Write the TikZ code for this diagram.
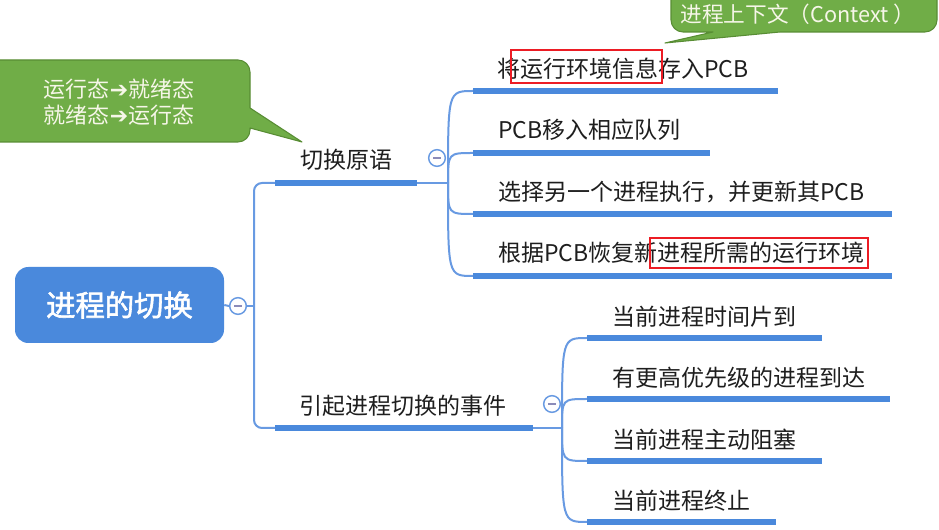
\documentclass[tikz,border=0pt]{standalone}
\usepackage{fontspec}
\setmainfont{Noto Sans CJK SC}
\newfontfamily\rootfont[FakeBold=2]{Noto Sans CJK SC}
\newfontfamily\arrowfont{DejaVu Sans}
\usetikzlibrary{
  positioning
}
\definecolor{rootcolor}{RGB}{74, 137, 220}
\definecolor{linkcolor}{RGB}{104, 154, 226}
\definecolor{barcolor}{RGB}{74, 137, 220}
\definecolor{notecolor}{RGB}{112, 173, 71}
\definecolor{noteborder}{RGB}{88, 141, 52}
\definecolor{notetext}{RGB}{246, 246, 232}
\definecolor{labelcolor}{RGB}{30, 30, 30}
\definecolor{togglecolor}{RGB}{140, 140, 185}
\definecolor{markcolor}{RGB}{236, 28, 36}
\tikzset{
topictext/.style={
  anchor=west,
  inner sep=0pt,
  font=\fontsize{17.25}{21}\selectfont,
  text=labelcolor
},
roottopic/.style={
  fill=rootcolor,
  rounded corners=10pt,
  minimum width=156.75pt,
  minimum height=57pt,
  font=\rootfont\fontsize{22}{26}\selectfont,
  text=white
},
toggle/.style={
  circle,
  draw=linkcolor,
  fill=white,
  line width=1.1pt,
  minimum size=12.5pt,
  inner sep=0pt,
  path picture={
    \draw[togglecolor, line width=1.2pt]
      ([xshift=-3pt]path picture bounding box.center) --
      ([xshift=3pt]path picture bounding box.center);
  }
},
link/.style={
  draw=linkcolor,
  line width=1.5pt
},
bar/.style={
  draw=barcolor,
  line width=4.3pt
},
callout/.style={
  fill=notecolor,
  draw=noteborder,
  line width=0.8pt,
  line join=round
},
notetextstyle/.style={
  align=center,
  inner sep=0pt,
  text=notetext
},
markbox/.style={
  draw=markcolor,
  line width=1pt
}
}
\newcommand{\arr}{{\arrowfont ➔}}

\begin{document}
\begin{tikzpicture}[x=0.75pt, y=-0.75pt]
      \fill[white] (0,0) rectangle (939,530);
      \useasboundingbox (0,0) rectangle (939,530);

      \draw[callout] (250,108) -- (302,142) -- (250,128)
        [rounded corners=9pt] -- (250,142) -- (-12,142) -- (-12,60) -- (250,60)
        [sharp corners] -- cycle;
      \node[notetextstyle, font=\fontsize{16.5}{19.5}\selectfont] (n1) at (119,102)
        {运行态\arr 就绪态\\就绪态\arr 运行态};

      \draw[callout] (713,32) -- (665,43) -- (780,32)
        [rounded corners=9pt] -- (937,32) -- (937,-20) -- (671,-20) -- (671,32)
        [sharp corners] -- cycle;
      \node[notetextstyle, font=\fontsize{16.25}{19}\selectfont] (n2) at (798,14)
        {进程上下文（Context ）};

      \node[roottopic] (root) at (119.5,305) {进程的切换};
      \node[toggle] (tg0) at (238,306) {};
      \node[toggle] (tg1) at (437,158) {};
      \node[toggle] (tg2) at (552,404) {};

      \coordinate (j0) at (254,306);
      \coordinate (uAa) at (275,183);
      \coordinate (uAb) at (417,183);
      \coordinate (uBa) at (275,428);
      \coordinate (uBb) at (533,428);
      \coordinate (bA) at (448,183);
      \coordinate (bB) at (562,428);

      \coordinate (a1s) at (473,91);  \coordinate (a1e) at (778,91);
      \coordinate (a2s) at (473,153); \coordinate (a2e) at (710,153);
      \coordinate (a3s) at (473,214); \coordinate (a3e) at (892,214);
      \coordinate (a4s) at (473,276); \coordinate (a4e) at (892,276);
      \coordinate (b1s) at (587,338); \coordinate (b1e) at (822,338);
      \coordinate (b2s) at (587,399); \coordinate (b2e) at (890,399);
      \coordinate (b3s) at (587,461); \coordinate (b3e) at (822,461);
      \coordinate (b4s) at (587,522); \coordinate (b4e) at (776,522);

      \draw[link] (root.east) -- (tg0.west);
      \draw[link] (tg0.east) -- (j0);
      \draw[link, rounded corners=6pt] (uAa) -| (j0) |- (uBa);
      \draw[bar] (uAa) -- (uAb);
      \draw[bar] (uBa) -- (uBb);
      \draw[link] (uAb) -- (bA);
      \draw[link] (uBb) -- (bB);

      \draw[link] (bA) .. controls (bA |- a1s) .. (a1s);
      \draw[link] (bA) .. controls (bA |- a2s) .. (a2s);
      \draw[link] (bA) .. controls (bA |- a3s) .. (a3s);
      \draw[link] (bA) .. controls (bA |- a4s) .. (a4s);
      \draw[link] (bB) .. controls (bB |- b1s) .. (b1s);
      \draw[link] (bB) .. controls (bB |- b2s) .. (b2s);
      \draw[link] (bB) .. controls (bB |- b3s) .. (b3s);
      \draw[link] (bB) .. controls (bB |- b4s) .. (b4s);

      \draw[bar] (a1s) -- (a1e);
      \draw[bar] (a2s) -- (a2e);
      \draw[bar] (a3s) -- (a3e);
      \draw[bar] (a4s) -- (a4e);
      \draw[bar] (b1s) -- (b1e);
      \draw[bar] (b2s) -- (b2e);
      \draw[bar] (b3s) -- (b3e);
      \draw[bar] (b4s) -- (b4e);

      \node[topictext] (t0) at (300,160) {切换原语};
      \node[topictext] (t1) at (299,406) {引起进程切换的事件};
      \node[topictext] (a1) at (497,69) {将运行环境信息存入PCB};
      \node[topictext] (a2) at (498,130) {PCB移入相应队列};
      \node[topictext] (a3) at (498,192) {选择另一个进程执行，并更新其PCB};
      \node[topictext] (a4) at (498,253) {根据PCB恢复新进程所需的运行环境};
      \node[topictext] (b1) at (612,317) {当前进程时间片到};
      \node[topictext] (b2) at (612,378) {有更高优先级的进程到达};
      \node[topictext] (b3) at (612,440) {当前进程主动阻塞};
      \node[topictext] (b4) at (612,501) {当前进程终止};

      \draw[markbox] (511,50) rectangle (662,83);
      \draw[markbox] (650,238) rectangle (868,268);
    \end{tikzpicture}
\end{document}
